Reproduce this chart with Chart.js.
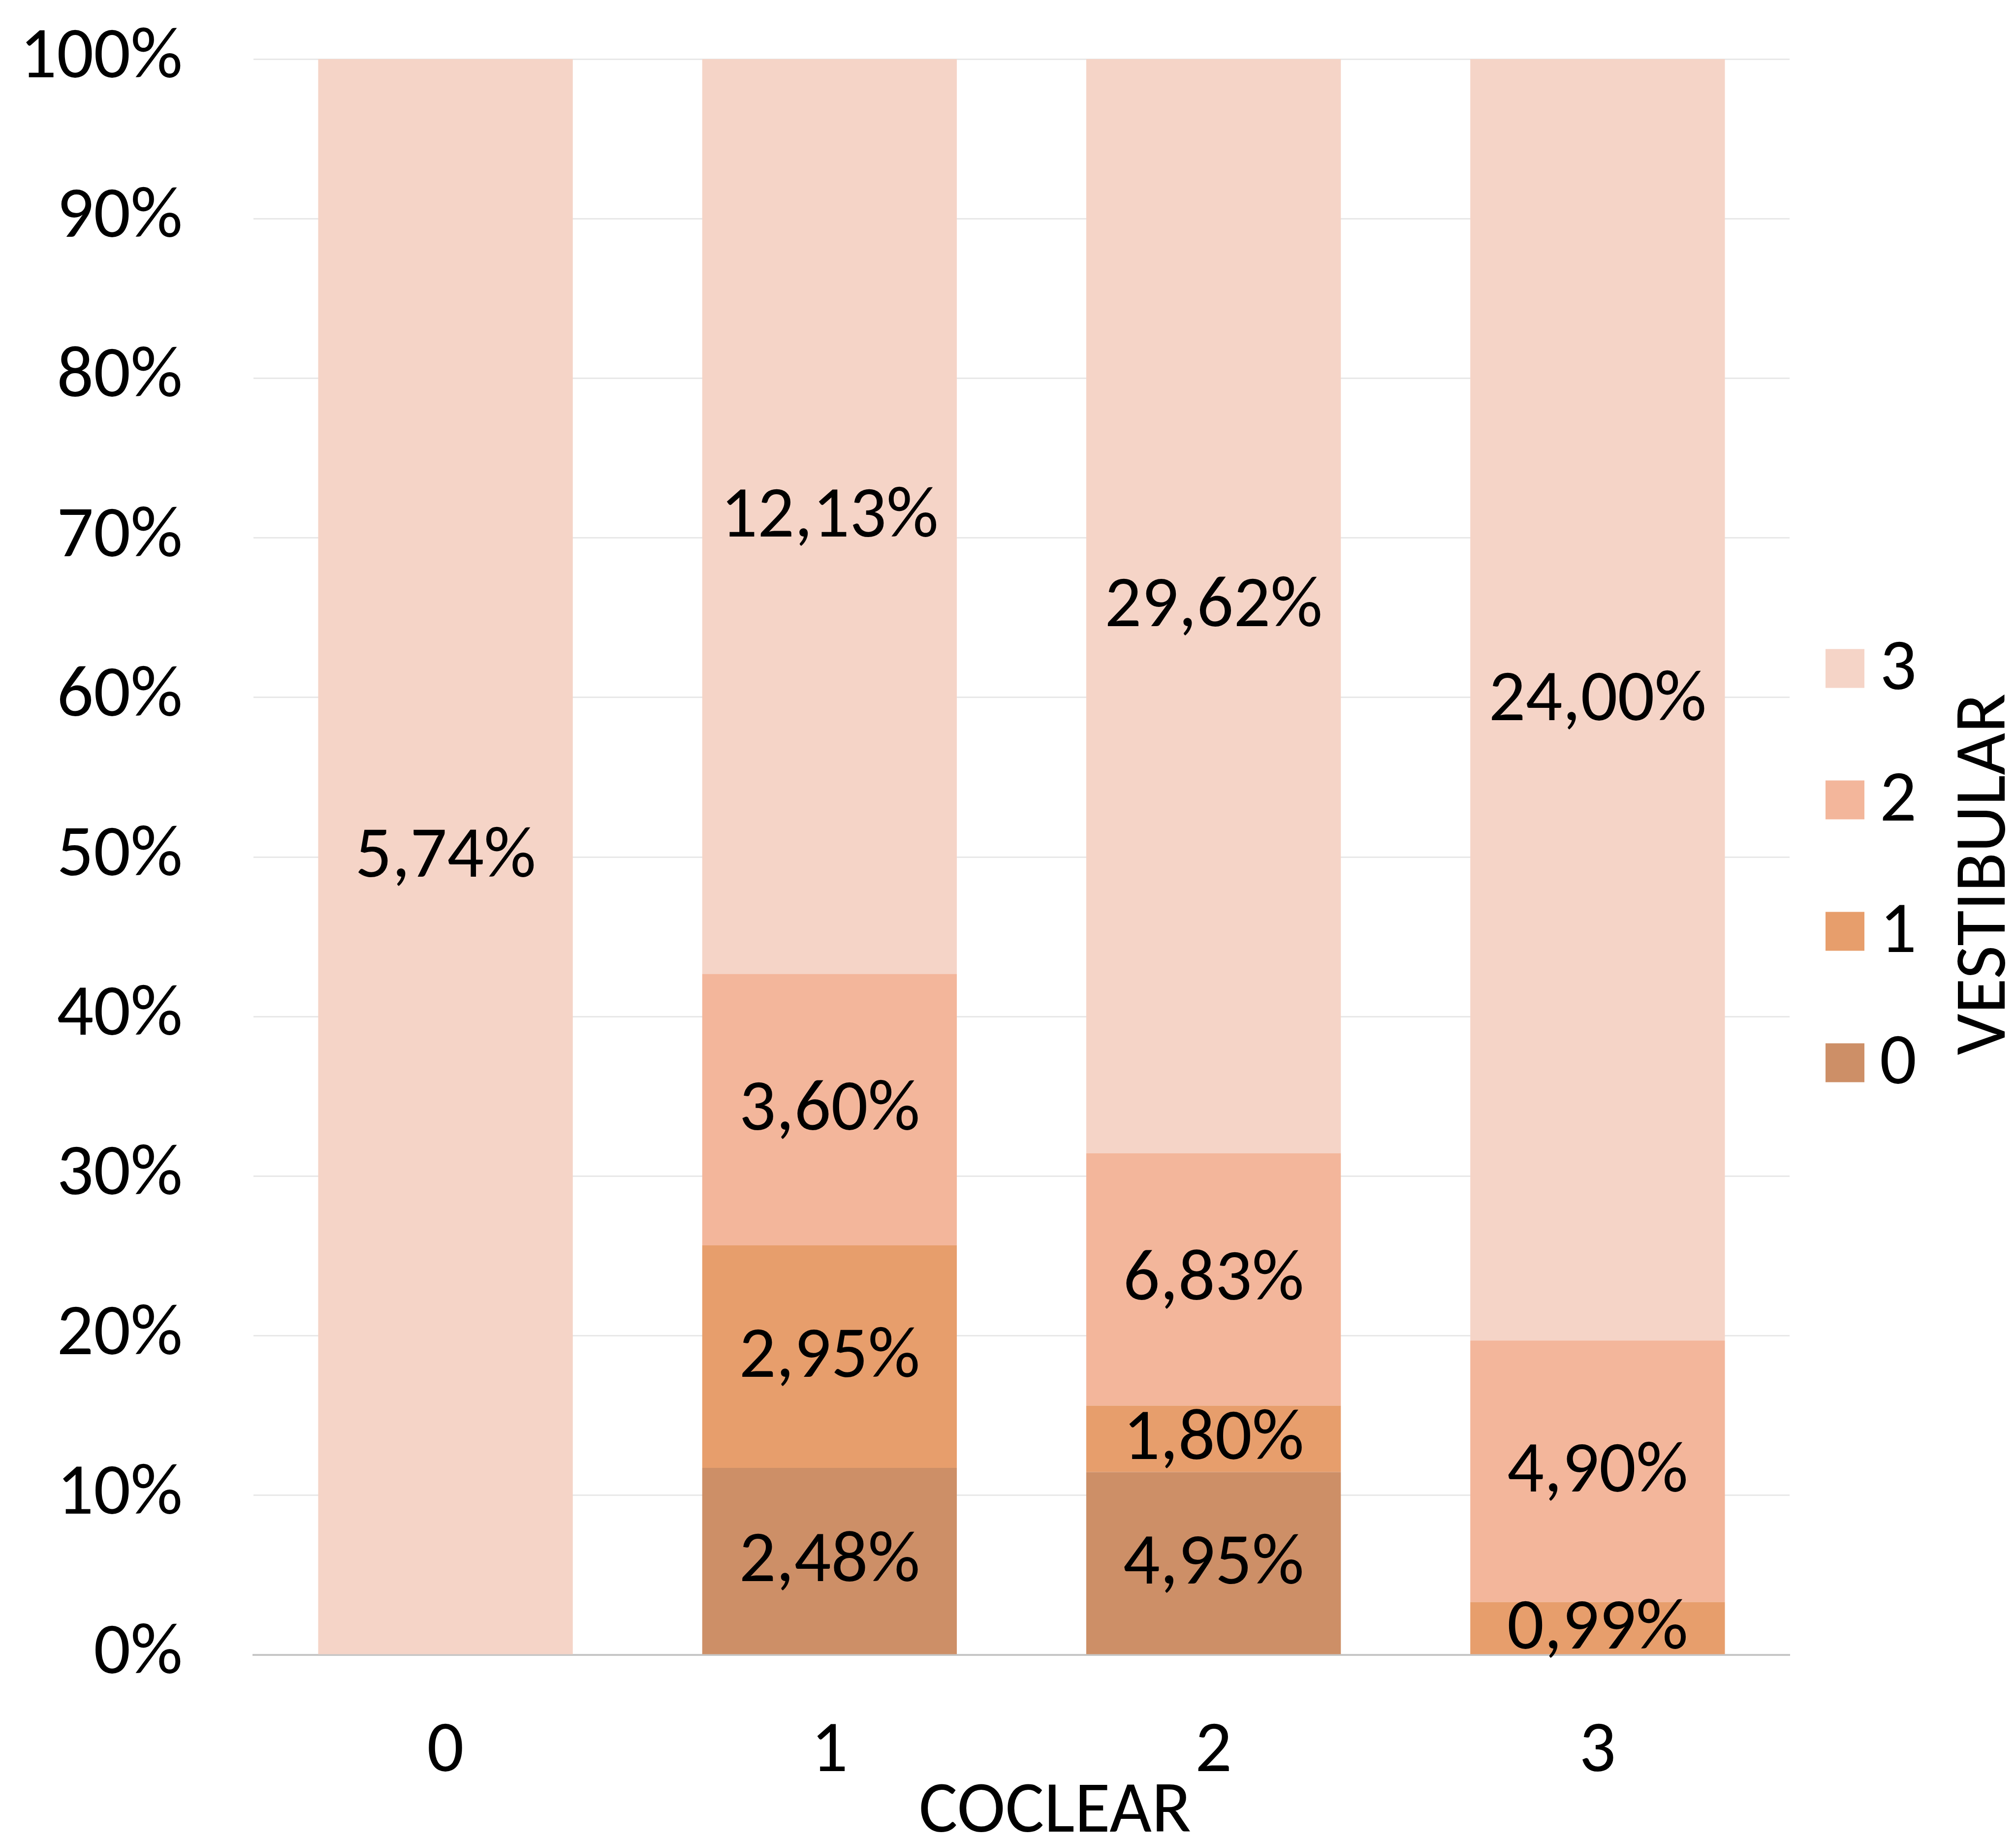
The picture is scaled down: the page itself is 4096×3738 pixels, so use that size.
<!DOCTYPE html>
<html>
<head>
<meta charset="utf-8">
<script src="https://cdn.jsdelivr.net/npm/chart.js@4/dist/chart.umd.min.js"></script>
<style>
  html, body { margin: 0; padding: 0; background: #ffffff; }
  #wrap { width: 4096px; height: 3738px; position: relative; }
  canvas { display: block; }
</style>
</head>
<body>
<div id="wrap"><canvas id="chart" width="4096" height="3738"></canvas></div>
<script>
// COCLEAR categories on the x axis
const categories = ['0', '1', '2', '3'];

// VESTIBULAR groups: percentage of all cases in each cell
const vestibular0 = [0, 2.48, 4.95, 0];
const vestibular1 = [0, 2.95, 1.80, 0.99];
const vestibular2 = [0, 3.60, 6.83, 4.90];
const vestibular3 = [5.74, 12.13, 29.62, 24.00];

const seriesNames = ['0', '1', '2', '3'];
const seriesColors = ['#cd8f67', '#e79e6c', '#f3b69b', '#f5d4c7'];
const yTickValues = [0, 10, 20, 30, 40, 50, 60, 70, 80, 90, 100];

const xTitle = 'COCLEAR';
const legendTitle = 'VESTIBULAR';

const FONT = 'Carlito, Calibri, Lato, sans-serif';
const FS = 148;

const rawSeries = [vestibular0, vestibular1, vestibular2, vestibular3];
const totals = categories.map((_, j) => rawSeries.reduce((s, arr) => s + arr[j], 0));
// each bar is the share of its column (100% stacked)
const shares = rawSeries.map(arr => arr.map((v, j) => totals[j] ? v / totals[j] * 100 : 0));

const fmt = v => v.toFixed(2).replace('.', ',') + '%';

const overlay = {
  id: 'overlay',
  afterDraw(chart) {
    const ctx = chart.ctx;
    const area = chart.chartArea;
    ctx.save();
    ctx.fillStyle = '#000000';
    ctx.font = FS + 'px ' + FONT;
    ctx.textAlign = 'center';
    ctx.textBaseline = 'middle';

    // value labels in the middle of every segment
    chart.data.datasets.forEach((ds, i) => {
      const meta = chart.getDatasetMeta(i);
      meta.data.forEach((bar, j) => {
        const raw = rawSeries[i][j];
        if (!raw) return;
        const p = bar.getProps(['x', 'y', 'base'], true);
        ctx.fillText(fmt(raw), p.x, (p.y + p.base) / 2 + 4);
      });
    });

    // x axis title
    ctx.fillText(xTitle, (area.left + area.right) / 2 + 68, area.bottom + 322);

    // legend, top entry is the last series
    const rowGap = 267;
    const midY = (area.top + area.bottom) / 2 + 18;
    const n = seriesNames.length;
    ctx.textAlign = 'left';
    for (let k = 0; k < n; k++) {
      const idx = n - 1 - k;
      const cy = midY + (k - (n - 1) / 2) * rowGap;
      ctx.fillStyle = seriesColors[idx];
      ctx.fillRect(area.right + 73, cy - 40, 79, 79);
      ctx.fillStyle = '#000000';
      ctx.fillText(seriesNames[idx], area.right + 183, cy + 4);
    }

    // legend title, rotated
    ctx.translate(area.right + 400, midY + 17);
    ctx.rotate(-Math.PI / 2);
    ctx.textAlign = 'center';
    ctx.fillText(legendTitle, 0, 0);
    ctx.restore();
  }
};

new Chart(document.getElementById('chart'), {
  type: 'bar',
  data: {
    labels: categories,
    datasets: shares.map((arr, i) => ({
      label: seriesNames[i],
      data: arr,
      backgroundColor: seriesColors[i],
      borderWidth: 0,
      barPercentage: 0.663,
      categoryPercentage: 1.0
    }))
  },
  options: {
    responsive: false,
    animation: false,
    devicePixelRatio: 1,
    layout: { padding: { top: 120, right: 460, left: 0, bottom: 0 } },
    plugins: {
      legend: { display: false },
      tooltip: { enabled: false },
      title: { display: false }
    },
    scales: {
      x: {
        stacked: true,
        grid: { display: false, drawTicks: false },
        border: { display: true, color: '#c6c6c6', width: 4 },
        ticks: { color: '#000000', font: { family: FONT, size: FS }, padding: 110 },
        afterFit(scale) {
          scale.height = 376;
          scale.paddingLeft = 0;
          scale.paddingRight = 0;
        }
      },
      y: {
        stacked: true,
        min: 0,
        max: 100,
        z: 1,
        afterBuildTicks(scale) { scale.ticks = yTickValues.map(v => ({ value: v })); },
        grid: { color: 'rgba(0,0,0,0.09)', lineWidth: 3, drawTicks: false },
        border: { display: false },
        ticks: {
          color: '#000000',
          font: { family: FONT, size: FS },
          padding: 144,
          callback: v => v + '%'
        },
        afterFit(scale) {
          scale.width = 515;
          scale.paddingTop = 0;
          scale.paddingBottom = 0;
        }
      }
    }
  },
  plugins: [overlay]
});
</script>
</body>
</html>
